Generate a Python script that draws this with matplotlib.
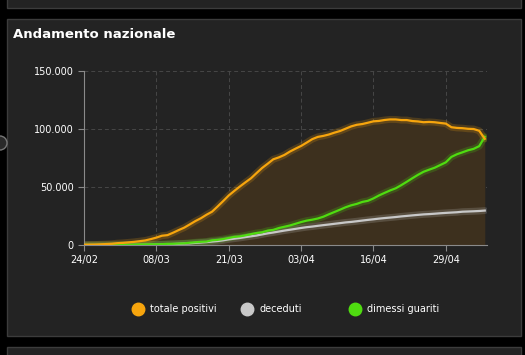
import matplotlib.pyplot as plt
import numpy as np
from matplotlib.patches import Rectangle, Ellipse
from matplotlib.lines import Line2D

# Italian national trend, 24/02/2020 .. 06/05/2020 (one value per day)
totale_positivi = [221, 311, 385, 588, 821, 1049, 1577, 1835, 2263, 2706, 3296, 3916, 5061, 6387,
                   7985, 8514, 10590, 12839, 14955, 17750, 20603, 23073, 26062, 28710, 33190, 37860,
                   42681, 46638, 50418, 54030, 57521, 62013, 66414, 70065, 73880, 75528, 77635,
                   80572, 83049, 85388, 88274, 91246, 93187, 94067, 95262, 96877, 98273, 100269,
                   102253, 103616, 104291, 105418, 106607, 106962, 107771, 108257, 108237, 107709,
                   107699, 106848, 106527, 105847, 106103, 105813, 105205, 104657, 101551, 100943,
                   100704, 100179, 99980, 98467, 91528]
deceduti = [7, 10, 12, 17, 21, 29, 34, 52, 79, 107, 148, 197, 233, 366, 463, 631, 827, 1016, 1266,
            1441, 1809, 2158, 2503, 2978, 3405, 4032, 4825, 5476, 6077, 6820, 7503, 8165, 9134,
            10023, 10779, 11591, 12428, 13155, 13915, 14681, 15362, 15887, 16523, 17127, 17669,
            18279, 18849, 19468, 19899, 20465, 21067, 21645, 22170, 22745, 23227, 23660, 24114,
            24648, 25085, 25549, 25969, 26384, 26644, 26977, 27359, 27682, 27967, 28236, 28710,
            28884, 29079, 29315, 29684]
dimessi_guariti = [1, 1, 3, 45, 46, 50, 83, 149, 160, 276, 414, 523, 589, 622, 724, 1004, 1045,
                   1258, 1439, 1966, 2335, 2749, 2941, 4025, 4440, 5129, 6072, 7024, 7432, 8326,
                   9362, 10361, 10950, 12384, 13030, 14620, 15729, 16847, 18278, 19758, 20996,
                   21815, 22837, 24392, 26491, 28470, 30455, 32534, 34211, 35435, 37130, 38092,
                   40164, 42727, 44927, 47055, 48877, 51600, 54543, 57576, 60498, 63120, 64928,
                   66624, 68941, 71252, 75945, 78249, 79914, 81654, 82879, 85231, 93245]

x_ticks = [0, 13, 26, 39, 52, 65]
x_labels = ['24/02', '08/03', '21/03', '03/04', '16/04', '29/04']
y_ticks = [0, 50000, 100000, 150000]
y_labels = ['0', '50.000', '100.000', '150.000']
legend_labels = ['totale positivi', 'deceduti', 'dimessi guariti']

ORANGE = '#f7a50d'
GREY = '#c8c8c8'
GREEN = '#4fdc10'
PANEL = '#232323'
EDGE = '#3c3c3c'

fig = plt.figure(figsize=(5.25, 3.55), dpi=100, facecolor='black')

# panels
for y0, h in [(1-336/355, 317/355), (1-8/355, 20/355), (-0.05, (355-347)/355+0.05)]:
    fig.patches.append(Rectangle((7/525, y0), 514/525, h, transform=fig.transFigure,
                                 facecolor=PANEL, edgecolor=EDGE, lw=1, zorder=-5))
# little round button peeking in on the left edge
fig.patches.append(Ellipse((0, 1-143/355), 14/525, 14/355, transform=fig.transFigure,
                           facecolor='#2a2a2a', edgecolor='#777777', lw=1, zorder=-4))

fig.text(13/525, 1-35/355, 'Andamento nazionale', color='white', fontsize=9.5,
         fontweight='bold', va='center', ha='left')

ax = fig.add_axes([84/525, 110/355, (487-84)/525, (245-71)/355])
ax.set_facecolor('none')
days = np.arange(len(totale_positivi))

ax.fill_between(days, 0, totale_positivi, color='#3d301e', lw=0, zorder=1)
for data, col in [(deceduti, GREY), (dimessi_guariti, GREEN), (totale_positivi, ORANGE)]:
    ax.plot(days, data, color=col, lw=5, alpha=0.2, zorder=2, solid_capstyle='round')
    ax.plot(days, data, color=col, lw=1.6, zorder=3)

ax.set_xlim(0, 72.4)
ax.set_ylim(0, 150000)
ax.set_xticks(x_ticks)
ax.set_xticklabels(x_labels)
ax.set_yticks(y_ticks)
ax.set_yticklabels(y_labels)
ax.grid(True, color='#474747', ls=(0, (4, 3)), lw=0.7)
ax.set_axisbelow(True)
for s in ['top', 'right']:
    ax.spines[s].set_visible(False)
for s in ['left', 'bottom']:
    ax.spines[s].set_color('#8a8a8a')
    ax.spines[s].set_linewidth(0.8)
ax.tick_params(colors='#8a8a8a', labelcolor='white', labelsize=7, length=4, width=0.8)

# legend
for xp, lab, col in zip([138, 247, 355], legend_labels, [ORANGE, GREY, GREEN]):
    fig.add_artist(Line2D([xp/525], [1-309/355], marker='o', markersize=9, color=col,
                          transform=fig.transFigure, lw=0))
    fig.text((xp+12)/525, 1-309/355, lab, color='white', fontsize=7, va='center', ha='left')

fig.savefig('out.png', dpi=100, facecolor='black')
